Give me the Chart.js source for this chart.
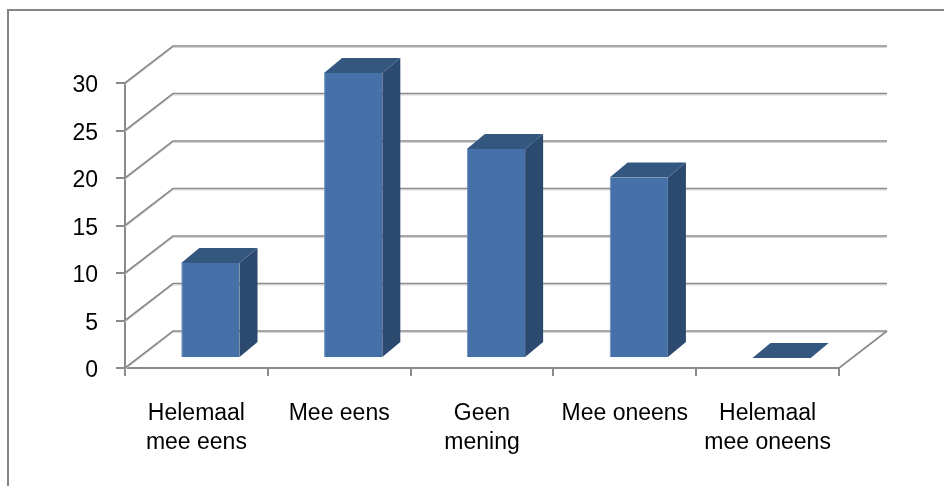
<!DOCTYPE html>
<html><head><meta charset="utf-8">
<style>html,body{margin:0;padding:0;background:#fff;overflow:hidden}#wrap{width:944px;height:486px;position:relative}</style>
<script src="https://cdn.jsdelivr.net/npm/chart.js@4.4.1/dist/chart.umd.min.js"></script>
</head><body><div id="wrap"><canvas id="c" width="944" height="486"></canvas></div>
<script>
// ---- data ----
const categories = [['Helemaal', 'mee eens'], ['Mee eens'], ['Geen', 'mening'], ['Mee oneens'], ['Helemaal', 'mee oneens']];
const values = [10, 30, 22, 19, 0];
const yTicks = [0, 5, 10, 15, 20, 25, 30];

// ---- 3D projection offsets (styling) ----
const WALL = {dx: 48, dy: -37};   // back wall depth
const FRONT = {dx: 14, dy: -10};  // bar front plane depth
const DEPTH = {dx: 18, dy: -15};  // bar depth
const FONT = {family: '"Liberation Sans", Arial, sans-serif', size: 23, lineHeight: 1.26};

const threeD = {
  id: 'threeD',
  beforeDraw(chart) {
    const ctx = chart.ctx;
    ctx.save();
    ctx.strokeStyle = '#858585';
    ctx.lineWidth = 2;
    ctx.beginPath();
    ctx.moveTo(8, 486); ctx.lineTo(8, 10); ctx.lineTo(944, 10);
    ctx.stroke();
    ctx.restore();
  },
  beforeDatasetsDraw(chart) {
    const {ctx, chartArea: a, scales: {y}} = chart;
    ctx.save();
    const path = (py, off) => {
      ctx.beginPath();
      ctx.moveTo(a.left, py + off);
      ctx.lineTo(a.left + WALL.dx, py + WALL.dy + off);
      ctx.lineTo(a.right + WALL.dx, py + WALL.dy + off);
      ctx.stroke();
    };
    y.ticks.forEach(t => {
      const py = y.getPixelForValue(t.value);
      ctx.strokeStyle = '#d6d6d6'; ctx.lineWidth = 1; path(py, 1.5);
      ctx.strokeStyle = '#8a8a8a'; ctx.lineWidth = 1.6; path(py, 0);
    });
    ctx.strokeStyle = '#8a8a8a'; ctx.lineWidth = 1.6;
    ctx.beginPath();
    ctx.moveTo(a.right, a.bottom);
    ctx.lineTo(a.right + WALL.dx, a.bottom + WALL.dy);
    ctx.stroke();
    ctx.restore();
    ctx.save();
    ctx.translate(FRONT.dx, FRONT.dy);
  },
  afterDatasetsDraw(chart) {
    const ctx = chart.ctx;
    chart.getDatasetMeta(0).data.forEach(el => {
      const {x, y, base, width} = el.getProps(['x', 'y', 'base', 'width'], true);
      const l = x - width / 2, r = x + width / 2;
      ctx.fillStyle = '#2c4a6f';
      ctx.beginPath();
      ctx.moveTo(r, y); ctx.lineTo(r + DEPTH.dx, y + DEPTH.dy);
      ctx.lineTo(r + DEPTH.dx, base + DEPTH.dy); ctx.lineTo(r, base);
      ctx.closePath(); ctx.fill();
      ctx.fillStyle = '#34577f';
      ctx.beginPath();
      ctx.moveTo(l, y); ctx.lineTo(l + DEPTH.dx, y + DEPTH.dy);
      ctx.lineTo(r + DEPTH.dx, y + DEPTH.dy); ctx.lineTo(r, y);
      ctx.closePath(); ctx.fill();
    });
    ctx.restore();
  }
};

new Chart(document.getElementById('c'), {
  type: 'bar',
  data: {
    labels: categories,
    datasets: [{
      data: values,
      backgroundColor: '#4571a8',
      borderColor: '#6a8fc2',
      borderWidth: {left: 1, top: 0, right: 0, bottom: 0},
      borderSkipped: false,
      categoryPercentage: 1,
      barPercentage: 0.408,
      clip: false
    }]
  },
  options: {
    responsive: false,
    animation: false,
    devicePixelRatio: 1,
    layout: {padding: {top: 83, right: 105, bottom: 0, left: 0}},
    plugins: {legend: {display: false}, tooltip: {enabled: false}},
    scales: {
      x: {
        offset: true,
        grid: {offset: true, drawOnChartArea: false, drawTicks: true, tickLength: 8, color: '#8a8a8a', lineWidth: 2},
        border: {display: true, color: '#8a8a8a', width: 2},
        ticks: {color: '#000', font: FONT, padding: 23, maxRotation: 0, autoSkip: false},
        afterFit(s) { s.height = 118; }
      },
      y: {
        min: 0, max: 30,
        afterBuildTicks(s) { s.ticks = yTicks.map(v => ({value: v})); },
        grid: {drawOnChartArea: false, drawTicks: true, tickLength: 9, color: '#8a8a8a', lineWidth: 2},
        border: {display: true, color: '#8a8a8a', width: 2},
        ticks: {color: '#000', font: FONT, padding: 18, labelOffset: 3},
        afterFit(s) { s.width = 125; }
      }
    }
  },
  plugins: [threeD]
});
</script>
</body></html>
